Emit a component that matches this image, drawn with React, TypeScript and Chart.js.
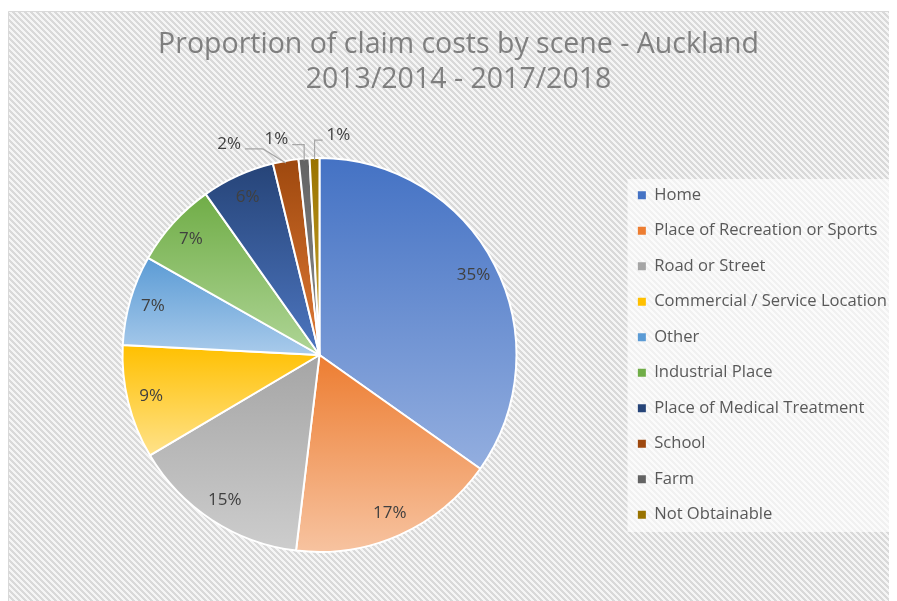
import React, { useEffect, useRef } from "react";
import { Chart, registerables } from "chart.js";

Chart.register(...registerables);

// ---- data ----
const categories = [
  "Home",
  "Place of Recreation or Sports",
  "Road or Street",
  "Commercial / Service Location",
  "Other",
  "Industrial Place",
  "Place of Medical Treatment",
  "School",
  "Farm",
  "Not Obtainable",
];
const claimCostShare = [34.8, 17.1, 14.6, 9.3, 7.4, 7.0, 6.0, 2.1, 0.9, 0.8];
const titleLines = ["Proportion of claim costs by scene - Auckland", "2013/2014 - 2017/2018"];

// ---- styles ----
const baseColors = [
  "#4472C4",
  "#ED7D31",
  "#A5A5A5",
  "#FFC000",
  "#5B9BD5",
  "#70AD47",
  "#264478",
  "#9E480E",
  "#636363",
  "#997300",
];
const lightColors = [
  "#93AEDF",
  "#F7C3A0",
  "#CDCDCD",
  "#FFE28A",
  "#A9CBEB",
  "#AFD596",
  "#4D76C0",
  "#E07A35",
  "#8C8C8C",
  "#CCA633",
];
// leader lines for small slices: [elbow dx, elbow dy, horizontal length]
const leaderOffsets: Record<number, [number, number, number]> = {
  7: [-23, -14, -18],
  8: [0, -16, -12],
  9: [0, -20, 8],
};
const FONT = "'Open Sans', 'Noto Sans', sans-serif";

function makePattern(): CanvasPattern | string {
  const tile = document.createElement("canvas");
  const n = 6;
  tile.width = n;
  tile.height = n;
  const t = tile.getContext("2d");
  if (!t) return "#ececec";
  t.fillStyle = "#f5f5f5";
  t.fillRect(0, 0, n, n);
  t.fillStyle = "#d9d9d9";
  for (let y = 0; y < n; y++) {
    for (let x = 0; x < n; x++) {
      if ((x - y + n * 2) % n < 3) t.fillRect(x, y, 1, 1);
    }
  }
  const ctx = document.createElement("canvas").getContext("2d");
  return (ctx && ctx.createPattern(tile, "repeat")) || "#ececec";
}

function sliceGradient(c: any) {
  const chart = c.chart;
  const i = c.dataIndex;
  const ca = chart.chartArea;
  if (!ca || i === undefined) return baseColors[i ?? 0];
  const ctrl: any = chart.getDatasetMeta(0).controller;
  const r = ctrl.outerRadius || Math.min(ca.right - ca.left, ca.bottom - ca.top) / 2;
  const cy = (ca.top + ca.bottom) / 2 + (ctrl.offsetY || 0);
  const data = chart.data.datasets[0].data as number[];
  const total = data.reduce((a: number, b: number) => a + b, 0);
  let acc = 0;
  for (let k = 0; k < i; k++) acc += data[k];
  const a0 = -Math.PI / 2 + (acc / total) * 2 * Math.PI;
  const a1 = a0 + (data[i] / total) * 2 * Math.PI;
  const ys = [cy, cy + r * Math.sin(a0), cy + r * Math.sin(a1)];
  for (const q of [-Math.PI / 2, Math.PI / 2, (3 * Math.PI) / 2]) {
    if (q >= a0 && q <= a1) ys.push(cy + r * Math.sin(q));
  }
  const top = Math.min(...ys);
  const bot = Math.max(...ys);
  const g = chart.ctx.createLinearGradient(0, top, 0, bot + 0.01);
  g.addColorStop(0, baseColors[i]);
  g.addColorStop(1, lightColors[i]);
  return g;
}

const backgroundPlugin = {
  id: "hatchBackground",
  beforeDraw(chart: any) {
    const { ctx, width, height } = chart;
    ctx.save();
    ctx.fillStyle = "#ffffff";
    ctx.fillRect(0, 0, width, height);
    ctx.fillStyle = makePattern();
    ctx.fillRect(0, 3, width, height - 3);
    ctx.strokeStyle = "#d9d9d9";
    ctx.lineWidth = 1;
    ctx.beginPath();
    ctx.moveTo(0.5, height);
    ctx.lineTo(0.5, 3.5);
    ctx.lineTo(width, 3.5);
    ctx.stroke();
    const lg = chart.legend;
    const ca = chart.chartArea;
    if (lg && ca) {
      ctx.fillStyle = "rgba(255,255,255,0.62)";
      ctx.fillRect(lg.left + 8.5, ca.top + 22, width - lg.left, ca.bottom - ca.top - 43);
    }
    ctx.restore();
  },
};

const labelPlugin = {
  id: "sliceLabels",
  afterDatasetsDraw(chart: any) {
    const meta = chart.getDatasetMeta(0);
    const ctx = chart.ctx;
    const data = chart.data.datasets[0].data as number[];
    const total = data.reduce((a, b) => a + b, 0);
    ctx.save();
    ctx.font = `17px ${FONT}`;
    ctx.fillStyle = "#404040";
    ctx.textBaseline = "middle";
    meta.data.forEach((arc: any, i: number) => {
      const { x, y, startAngle, endAngle, outerRadius } = arc.getProps(
        ["x", "y", "startAngle", "endAngle", "outerRadius"],
        true
      );
      const mid = (startAngle + endAngle) / 2;
      const pct = Math.round((data[i] / total) * 100) + "%";
      const lead = leaderOffsets[i];
      if (!lead) {
        const rr = outerRadius * 0.88;
        ctx.textAlign = "center";
        ctx.fillText(pct, x + Math.cos(mid) * rr, y + Math.sin(mid) * rr);
      } else {
        const px = x + Math.cos(mid) * (outerRadius - 2);
        const py = y + Math.sin(mid) * (outerRadius - 2);
        const ex = px + lead[0];
        const ey = py + lead[1];
        const tx = ex + lead[2];
        ctx.strokeStyle = "#a6a6a6";
        ctx.lineWidth = 1.2;
        ctx.beginPath();
        ctx.moveTo(px, py);
        ctx.lineTo(ex, ey);
        ctx.lineTo(tx, ey);
        ctx.stroke();
        const dir = lead[2] < 0 ? -1 : 1;
        ctx.textAlign = dir < 0 ? "right" : "left";
        ctx.fillText(pct, tx + dir * 4, ey - 5);
      }
    });
    ctx.restore();
  },
};

export default function App() {
  const ref = useRef<HTMLCanvasElement | null>(null);
  useEffect(() => {
    document.documentElement.style.overflow = "hidden";
    document.body.style.overflow = "hidden";
    if (!ref.current) return;
    const chart = new Chart(ref.current, {
      type: "pie",
      data: {
        labels: categories,
        datasets: [
          {
            data: claimCostShare,
            backgroundColor: sliceGradient as any,
            borderColor: "#ffffff",
            borderWidth: 2,
          },
        ],
      },
      options: {
        responsive: false,
        animation: false,
        layout: { padding: { left: 12, right: 0, top: 0, bottom: 48 } },
        plugins: {
          title: {
            display: true,
            text: titleLines,
            color: "#7f7f7f",
            font: { family: FONT, size: 28.5, weight: "normal", lineHeight: 35 / 28.5 },
            padding: { top: 19, bottom: 60 },
          },
          legend: {
            position: "right",
            fullSize: false,
            labels: {
              boxWidth: 8,
              boxHeight: 8,
              padding: 18.9,
              color: "#595959",
              font: { family: FONT, size: 16.6 },
              generateLabels: () =>
                categories.map((t, i) => ({
                  text: t,
                  fillStyle: baseColors[i],
                  strokeStyle: baseColors[i],
                  lineWidth: 0,
                  hidden: false,
                  index: i,
                  fontColor: "#595959",
                })),
            },
          },
          tooltip: { enabled: false },
        },
      },
      plugins: [backgroundPlugin, labelPlugin],
    });
    return () => chart.destroy();
  }, []);
  return (
    <div style={{ width: 889, height: 593 }}>
      <canvas ref={ref} width={889} height={593} style={{ display: "block" }} />
    </div>
  );
}
